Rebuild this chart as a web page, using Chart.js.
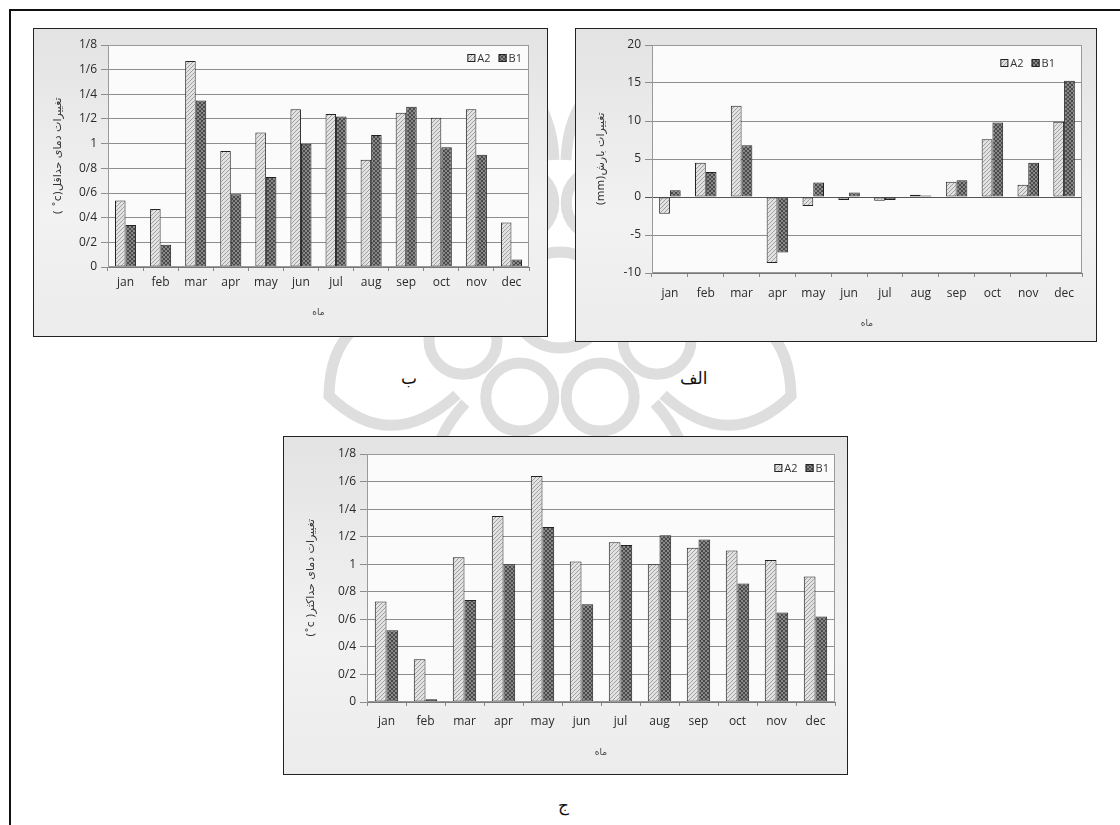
<!DOCTYPE html>
<html>
<head>
<meta charset="utf-8">
<script src="https://cdn.jsdelivr.net/npm/chart.js@4/dist/chart.umd.min.js"></script>
<style>
  body { margin: 0; background: #fff; width: 1120px; height: 825px; position: relative; overflow: hidden; }
  .frame { position: absolute; left: 9px; top: 9px; width: 1120px; height: 830px;
    border-top: 2px solid #111; border-left: 2px solid #111; }
  .mark { position: absolute; left: 0; top: 0; }
  .box { position: absolute; border: 1px solid #222; box-sizing: border-box;
    background: linear-gradient(#e3e3e3, #f2f2f2 60%, #ececec); }
  .box canvas { position: absolute; left: 0; top: 0; }
  .tag { position: absolute; font-family: "DejaVu Sans", sans-serif; font-size: 17px; color: #111; direction: rtl; }
</style>
</head>
<body>
<div class="frame"></div>

<!-- faint rosette watermark behind the charts -->
<svg class="mark" width="1120" height="825">
  <g fill="none" stroke="#dedede" stroke-width="11" id="rosette"></g>
</svg>

<div class="box" style="left:33px; top:28px; width:515px; height:309px;">
  <canvas id="chartMin" width="513" height="307"></canvas>
</div>
<div class="box" style="left:575px; top:28px; width:522px; height:314px;">
  <canvas id="chartRain" width="520" height="312"></canvas>
</div>
<div class="box" style="left:283px; top:436px; width:565px; height:339px;">
  <canvas id="chartMax" width="563" height="337"></canvas>
</div>

<div class="tag" style="left:401px; top:368px;">ب</div>
<div class="tag" style="left:680px; top:368px;">الف</div>
<div class="tag" style="left:558px; top:795px;">ج</div>

<script>
const months = ["jan", "feb", "mar", "apr", "may", "jun", "jul", "aug", "sep", "oct", "nov", "dec"];

// minimum temperature change (ب)
const minTempA2 = [0.54, 0.47, 1.67, 0.94, 1.09, 1.28, 1.24, 0.87, 1.25, 1.21, 1.28, 0.36];
const minTempB1 = [0.34, 0.18, 1.35, 0.59, 0.73, 1.0, 1.22, 1.07, 1.3, 0.97, 0.91, 0.06];

// rainfall change (الف)
const rainA2 = [-2.2, 4.5, 12.0, -8.7, -1.2, -0.4, -0.5, 0.3, 2.0, 7.6, 1.6, 9.9];
const rainB1 = [0.9, 3.3, 6.8, -7.3, 1.9, 0.6, -0.4, 0.2, 2.2, 9.8, 4.5, 15.3];

// maximum temperature change (ج)
const maxTempA2 = [0.73, 0.31, 1.05, 1.35, 1.64, 1.02, 1.16, 1.0, 1.12, 1.1, 1.03, 0.91];
const maxTempB1 = [0.52, 0.02, 0.74, 1.0, 1.27, 0.71, 1.14, 1.21, 1.18, 0.86, 0.65, 0.62];

const tempTickLabels = ["0", "0/2", "0/4", "0/6", "0/8", "1", "1/2", "1/4", "1/6", "1/8"];
const rainTickLabels = ["-10", "-5", "0", "5", "10", "15", "20"];

const seriesNames = ["A2", "B1"];

// watermark: ring of circles and petals
(function drawRosette() {
  const g = document.getElementById("rosette");
  const cx = 560, cy = 300;
  let svg = "";
  for (let k = 0; k < 8; k++) {
    const ang = (Math.PI / 4) * k + Math.PI / 8;
    const x = cx + Math.cos(ang) * 105, y = cy + Math.sin(ang) * 105;
    svg += `<circle cx="${x.toFixed(1)}" cy="${y.toFixed(1)}" r="34"/>`;
    const a1 = ang - 0.35, a2 = ang + 0.35, tip = ang;
    const p1 = [cx + Math.cos(a1) * 140, cy + Math.sin(a1) * 140];
    const p2 = [cx + Math.cos(a2) * 140, cy + Math.sin(a2) * 140];
    const t = [cx + Math.cos(tip) * 250, cy + Math.sin(tip) * 250];
    svg += `<path d="M${p1[0].toFixed(1)},${p1[1].toFixed(1)} Q${(cx + Math.cos(a1) * 230).toFixed(1)},${(cy + Math.sin(a1) * 230).toFixed(1)} ${t[0].toFixed(1)},${t[1].toFixed(1)} Q${(cx + Math.cos(a2) * 230).toFixed(1)},${(cy + Math.sin(a2) * 230).toFixed(1)} ${p2[0].toFixed(1)},${p2[1].toFixed(1)}"/>`;
  }
  svg += `<circle cx="${cx}" cy="${cy}" r="48"/>`;
  g.innerHTML = svg;
})();

function makePattern(bg, fg, cross) {
  const c = document.createElement("canvas");
  c.width = 4;
  c.height = 4;
  const g = c.getContext("2d");
  g.fillStyle = bg;
  g.fillRect(0, 0, 4, 4);
  g.strokeStyle = fg;
  g.lineWidth = 1;
  g.beginPath();
  g.moveTo(0, 4);
  g.lineTo(4, 0);
  if (cross) {
    g.moveTo(0, 0);
    g.lineTo(4, 4);
  }
  g.stroke();
  return g.createPattern(c, "repeat");
}

const patternA2 = makePattern("#e2e2e2", "#a0a0a0", false);
const patternB1 = makePattern("#888", "#4a4a4a", true);

const plotFrame = {
  id: "plotFrame",
  beforeDraw(chart) {
    const { ctx, chartArea: a } = chart;
    ctx.save();
    ctx.fillStyle = "#fbfbfb";
    ctx.fillRect(a.left, a.top, a.right - a.left, a.bottom - a.top);
    ctx.restore();
  },
  afterDraw(chart) {
    const { ctx, chartArea: a } = chart;
    ctx.save();
    ctx.strokeStyle = "#9a9a9a";
    ctx.lineWidth = 1;
    ctx.strokeRect(a.left + 0.5, a.top + 0.5, a.right - a.left - 1, a.bottom - a.top - 1);
    ctx.restore();
  },
};

// legend drawn inside the plot, top right, like the Excel original
const cornerLegend = {
  id: "cornerLegend",
  afterDraw(chart, args, opts) {
    const { ctx, chartArea: a } = chart;
    ctx.save();
    ctx.font = "11px 'Open Sans', sans-serif";
    ctx.textBaseline = "middle";
    const y = a.top + opts.top;
    const items = chart.data.datasets.map((ds) => ({ text: ds.label, fill: ds.backgroundColor }));
    const widths = items.map((it) => 10 + ctx.measureText(it.text).width);
    const total = widths.reduce((s, w) => s + w, 0) + 8 * (items.length - 1);
    let x = a.right - opts.right - total;
    items.forEach((it, i) => {
      ctx.fillStyle = it.fill;
      ctx.fillRect(x, y - 4, 8, 8);
      ctx.strokeStyle = "#222";
      ctx.lineWidth = 1;
      ctx.strokeRect(x + 0.5, y - 3.5, 7, 7);
      ctx.fillStyle = "#333";
      ctx.fillText(it.text, x + 10, y + 1);
      x += widths[i] + 8;
    });
    ctx.restore();
  },
};

function buildChart(canvasId, cfg) {
  const tickFont = { family: "'Open Sans', 'Liberation Sans', sans-serif", size: 12 };
  return new Chart(document.getElementById(canvasId), {
    type: "bar",
    data: {
      labels: months,
      datasets: [
        {
          label: seriesNames[0],
          data: cfg.a2,
          backgroundColor: patternA2,
          borderColor: "#222",
          borderWidth: 1,
          borderSkipped: false,
        },
        {
          label: seriesNames[1],
          data: cfg.b1,
          backgroundColor: patternB1,
          borderColor: "#222",
          borderWidth: 1,
          borderSkipped: false,
        },
      ],
    },
    options: {
      responsive: false,
      animation: false,
      devicePixelRatio: 1,
      categoryPercentage: 0.6,
      barPercentage: 1.0,
      layout: { padding: { left: cfg.padLeft, top: cfg.padTop, right: cfg.padRight, bottom: cfg.padBottom } },
      plugins: {
        tooltip: { enabled: false },
        legend: { display: false },
        cornerLegend: { top: cfg.legendTop, right: cfg.legendRight },
      },
      scales: {
        x: {
          afterFit: (scale) => { scale.height = cfg.xHeight; },
          grid: { display: true, drawOnChartArea: false, offset: true, tickLength: 4, color: "#888" },
          border: { color: "#777" },
          ticks: { color: "#2a2a2a", font: tickFont, padding: cfg.xTickPad },
          title: {
            display: true,
            text: "ماه",
            color: "#444",
            font: { family: "'DejaVu Sans', sans-serif", size: 9 },
          },
        },
        y: {
          min: cfg.min,
          max: cfg.max,
          afterFit: (scale) => { scale.width = cfg.yWidth; },
          afterBuildTicks: (scale) => {
            scale.ticks = cfg.tickValues.map((v) => ({ value: v }));
          },
          grid: {
            color: (ctx) => (ctx.tick && ctx.tick.value === 0 && cfg.min < 0 ? "#555" : "#8e8e8e"),
            tickLength: 7,
          },
          border: { color: "#999" },
          ticks: {
            color: "#2a2a2a",
            font: { ...tickFont, size: 12 },
            padding: 4,
            callback: (v, i) => cfg.tickLabels[i],
          },
          title: {
            display: true,
            // right-to-left embedding so the unit sits at the end of the Persian text
            text: "\u202B" + cfg.yTitle + "\u202C",
            color: "#333",
            font: { family: "'DejaVu Sans', sans-serif", size: 11 },
          },
        },
      },
    },
    plugins: [plotFrame, cornerLegend],
  });
}

const tempTickValues = tempTickLabels.map((_, i) => i * 0.2);
const rainTickValues = rainTickLabels.map((t) => Number(t));

buildChart("chartMin", {
  a2: minTempA2,
  b1: minTempB1,
  min: 0,
  max: 1.8,
  tickValues: tempTickValues,
  tickLabels: tempTickLabels,
  yTitle: "تغییرات دمای حداقل(c˚ )",
  padLeft: 14,
  padTop: 16,
  padRight: 18,
  padBottom: 14,
  yWidth: 60,
  xHeight: 55,
  xTickPad: 4,
  legendTop: 13,
  legendRight: 7,
});

buildChart("chartRain", {
  a2: rainA2,
  b1: rainB1,
  min: -10,
  max: 20,
  tickValues: rainTickValues,
  tickLabels: rainTickLabels,
  yTitle: "تغییرات بارش(mm)",
  padLeft: 15,
  padTop: 16,
  padRight: 14,
  padBottom: 8,
  yWidth: 61,
  xHeight: 60,
  xTickPad: 9,
  legendTop: 18,
  legendRight: 27,
});

buildChart("chartMax", {
  a2: maxTempA2,
  b1: maxTempB1,
  min: 0,
  max: 1.8,
  tickValues: tempTickValues,
  tickLabels: tempTickLabels,
  yTitle: "تغییرات دمای حداکثر( c˚)",
  padLeft: 17,
  padTop: 17,
  padRight: 12,
  padBottom: 12,
  yWidth: 66,
  xHeight: 60,
  xTickPad: 8,
  legendTop: 14,
  legendRight: 6,
});
</script>
</body>
</html>
